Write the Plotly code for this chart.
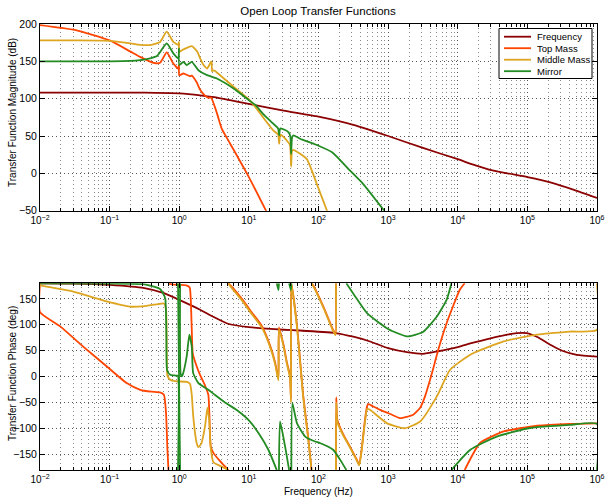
import plotly.graph_objects as go

# ---------------- data (frequency given as log10(Hz)) ----------------
series_names = ["Frequency", "Top Mass", "Middle Mass", "Mirror"]
series_colors = ["#8B0000", "#FF4500", "#DDA520", "#228B22"]

x_tick_exps = [-2, -1, 0, 1, 2, 3, 4, 5, 6]
x_tick_labels = ["10<sup>\u22122</sup>", "10<sup>\u22121</sup>", "10<sup>0</sup>", "10<sup>1</sup>",
                 "10<sup>2</sup>", "10<sup>3</sup>", "10<sup>4</sup>", "10<sup>5</sup>", "10<sup>6</sup>"]

# magnitude (dB)
freq_mag_logf = [-2, -1, -0.5, 0, 0.3, 0.5, 0.73, 1.0, 1.5, 2.0, 2.5, 3.0, 3.5, 4.0, 4.2, 4.5, 5.0, 5.33, 5.67, 6.0]
freq_mag_db = [108, 108, 108, 107, 104.5, 102, 98, 93, 84, 76, 65, 50, 34, 19, 12.5, 4, -5, -12, -22, -33]

top_mag_logf = [-2, -1.5, -1, -0.7, -0.563, -0.37, -0.276, -0.18, -0.085, -0.013, -0.004, 0.0, 0.06, 0.155,
                0.18, 0.25, 0.3, 0.37, 0.42, 0.457, 0.5, 0.55, 0.61, 0.73, 1.0, 1.257]
top_mag_db = [198.6, 192, 178, 163, 156, 148, 148, 162, 147, 140, 145, 131.5, 133.7, 130,
              131, 122, 112, 104, 101, 101.5, 92, 78, 60, 40, -5, -52]

mid_mag_logf = [-2, -1.5, -1, -0.7, -0.563, -0.4, -0.276, -0.18, -0.085, -0.013, -0.004, 0.0, 0.06, 0.18,
                0.26, 0.3, 0.35, 0.40, 0.457, 0.466, 0.47, 0.5, 0.54, 0.78, 1.0, 1.1, 1.2, 1.35, 1.42,
                1.435, 1.45, 1.47, 1.545, 1.59, 1.607, 1.62, 1.64, 1.83, 1.975, 2.13]
mid_mag_db = [178, 178, 177.5, 174, 172, 172, 176, 189.7, 176, 172, 176, 163, 166, 170.4,
              163, 154, 145, 140.4, 149.4, 149.5, 137, 138, 135, 116, 99, 88, 75.4, 57.5, 52,
              39.6, 52, 51, 44, 38, 9, 30, 31.5, 19.4, -14, -52]

mir_mag_logf = [-2, -1, -0.7, -0.563, -0.42, -0.32, -0.18, -0.085, -0.013, -0.004, 0.0, 0.06, 0.107, 0.18,
                0.275, 0.40, 0.54, 0.78, 1.0, 1.1, 1.2, 1.35, 1.42, 1.435, 1.45, 1.52, 1.57, 1.595,
                1.607, 1.62, 1.64, 1.735, 2.0, 2.2, 2.45, 2.64, 2.96]
mir_mag_db = [150, 150, 150.5, 151.6, 154, 157, 174, 160.6, 154, 167, 145, 149.4, 145, 149.4,
              138, 131.5, 127, 113.6, 98, 91, 80, 66.5, 60, 51, 60, 58, 55, 50,
              26, 48, 51, 46.4, 37, 28, 4, -14, -52]

# phase (deg); None separates wrapped segments
freq_ph_logf = [-2, -1.5, -1, -0.5, -0.22, 0, 0.3, 0.48, 0.7, 1.0, 1.5, 1.73, 2.24, 2.5, 2.74, 3.0, 3.29,
                3.5, 3.70, 4.0, 4.18, 4.47, 4.85, 4.99, 5.15, 5.33, 5.5, 5.71, 6.0]
freq_ph_deg = [180, 179.5, 177, 170.7, 161, 148, 129, 116, 102, 95.5, 90.4, 89, 84, 77, 67.8, 55, 46.6,
               44, 48.5, 57, 64, 74, 84, 84, 76, 61.4, 50, 42, 38.5]

top_ph_logf = [-2, -2, -1.71, -1.38, -1.04, -0.755, -0.56, -0.4, -0.276, -0.22, -0.19, -0.17, -0.155, None,
               -0.155, -0.1, 0.1, 0.15, 0.165, 0.18, 0.194, 0.25, 0.30, 0.37, 0.418, 0.432, 0.453, 0.49,
               0.586, 0.705, None,
               0.705, 0.73, 0.9, 1.04, 1.185, 1.305, 1.376, 1.424, 1.432, 1.5, 1.545, 1.59, 1.605, 1.61,
               1.69, 1.78, 1.855, 1.9, None,
               1.9, 1.93, 2.07, 2.21, 2.245, 2.25, None,
               2.25, 2.255, 2.27, 2.35, 2.45, 2.55, 2.585, 2.62, 2.67, 2.7, 2.72, 2.78, 2.885, 3.03, 3.17,
               3.36, 3.46, 3.53, 3.63, 3.72, 3.84, 4.03, 4.1, None,
               4.1, 4.32, 4.66, 5.14, 5.61, 6.0]
top_ph_deg = [180, 124.5, 97, 58, 19.6, -12.4, -25.3, -29, -30.5, -35, -70, -140, -180, None,
              180, 178, 176, 172, 150, 90, 45, 20, 3, -17, -35, -70, -135, -147,
              -163, -180, None,
              180, 177, 150, 124, 98, 60, 28, -4, 95, 60, 28, 2, -43, 180,
              100, -36, -120, -180, None,
              180, 175, 135, 90, 82, 180, None,
              -180, -40, -83, -110, -134.6, -160, -169, -140, -80, -56, -53, -57, -64, -72, -80,
              -73.5, -60, -38, 6.8, 51.8, 103, 167.5, 180, None,
              -180, -128, -105.7, -94.7, -91, -90]

mid_ph_logf = [-2, -1.52, -1.04, -0.71, -0.47, -0.30, -0.22, -0.19, -0.18, -0.17, -0.13, -0.04, 0.11, 0.155,
               0.18, 0.2, 0.25, 0.275, 0.32, 0.37, 0.405, 0.43, 0.45, 0.49, 0.586, 0.705, None,
               0.705, 0.73, 0.9, 1.04, 1.185, 1.305, 1.376, 1.424, 1.432, 1.5, 1.545, 1.59, 1.605, 1.61,
               1.69, 1.78, 1.855, 1.9, None,
               1.9, 1.93, 2.07, 2.21, 2.245, 2.25, None,
               2.25, 2.255, 2.27, 2.35, 2.45, 2.55, 2.585, 2.62, 2.67, 2.7, 2.74, 2.98, 3.24, 3.46, 3.70,
               3.89, 4.18, 4.66, 5.14, 5.61, 6.0, 6.0]
mid_ph_deg = [176, 164, 145, 135, 136.6, 140, 141, 130, 50, 2, -6, -9, -10, -14,
              -35, -75, -128, -136, -128, -96, -60, -83, -135, -165, -172, -180, None,
              180, 175, 147, 121, 95, 57, 25, -7, 92, 57, 25, -1, -50, 180,
              97, -40, -123, -180, None,
              180, 173, 133, 88, 80, 180, None,
              -180, -50, -88, -112, -136, -162, -171, -142, -85, -62, -64, -89.6, -99.5, -86.5, -38,
              13.3, 42.2, 68, 81, 87, 90, 180]

mir_ph_logf = [-2, -1, -0.5, -0.276, -0.23, -0.2, -0.185, -0.175, -0.13, -0.04, -0.02, -0.018, None,
               -0.018, 0.012, None,
               0.012, 0.02, 0.035, 0.05, 0.107, 0.145, 0.18, 0.2, 0.275, 0.418, 0.51, 0.68, 0.80, 0.99,
               1.14, 1.28, 1.40, None,
               1.40, 1.425, 1.432, None,
               1.432, 1.448, 1.52, 1.578, None,
               1.578, 1.603, 1.61, None,
               1.61, 1.625, 1.69, 1.81, 1.95, 2.02, 2.21, 2.31, 2.4, None,
               2.4, 2.55, 2.7, 3.0, 3.27, 3.5, 3.7, 3.84, 3.91, None,
               3.91, 4.18, 4.56, 5.04, 5.61, 6.0, 6.0]
mir_ph_deg = [180, 179.5, 178, 169, 160, 150, 80, 13, 3.5, 2, 2, -180, None,
              180, -180, None,
              180, 5, 0.4, 4, 39, 81, 58, 6.8, -12.4, -25.3, -35, -52, -62, -83,
              -109, -141, -180, None,
              180, 167, 180, None,
              -180, -86.5, -134.6, -180, None,
              180, 167, 180, None,
              -180, -51, -89.6, -115.5, -125, -128, -141, -160, -180, None,
              180, 150, 122, 92, 77.5, 86, 116, 148, 180, None,
              -180, -141, -115.5, -99, -93, -91, -180]

mag_sets = [(freq_mag_logf, freq_mag_db), (top_mag_logf, top_mag_db),
            (mid_mag_logf, mid_mag_db), (mir_mag_logf, mir_mag_db)]
ph_sets = [(freq_ph_logf, freq_ph_deg), (top_ph_logf, top_ph_deg),
           (mid_ph_logf, mid_ph_deg), (mir_ph_logf, mir_ph_deg)]


def hz(logs):
    return [None if v is None else 10 ** v for v in logs]


fig = go.Figure()
for name, color, (lx, ly) in zip(series_names, series_colors, mag_sets):
    fig.add_trace(go.Scatter(x=hz(lx), y=ly, mode="lines", name=name, showlegend=False,
                             line=dict(color=color, width=1.8, shape="spline", smoothing=0.5),
                             xaxis="x", yaxis="y"))
for name, color, (lx, ly) in zip(series_names, series_colors, ph_sets):
    fig.add_trace(go.Scatter(x=hz(lx), y=ly, mode="lines", name=name, showlegend=False,
                             line=dict(color=color, width=1.8, shape="spline", smoothing=0.5),
                             xaxis="x2", yaxis="y2", connectgaps=False))

minor_vals = [k * 10 ** p for p in range(-2, 6) for k in range(2, 10)]
grid_dash = "1px,3px"

xcommon = dict(type="log", range=[-2, 6], tickmode="array", automargin=False,
               tickvals=[10 ** e for e in x_tick_exps], ticktext=x_tick_labels,
               ticks="inside", ticklen=5, tickcolor="black", showline=True, linecolor="black",
               linewidth=1, mirror="ticks", showgrid=True, gridcolor="#555", gridwidth=1,
               griddash=grid_dash, zeroline=False,
               minor=dict(tickmode="array", tickvals=minor_vals, ticks="inside", ticklen=3,
                          tickcolor="black", showgrid=True, gridcolor="#888", griddash=grid_dash),
               tickfont=dict(size=10, color="black"))
ycommon = dict(ticks="inside", ticklen=5, tickcolor="black", showline=True, linecolor="black",
               linewidth=1, mirror="ticks", showgrid=True, gridcolor="#555", gridwidth=1,
               griddash=grid_dash, zeroline=False, automargin=False,
               tickfont=dict(size=10.5, color="black"))

FIG_W, FIG_H = 605, 498
PLOT_L, PLOT_R, PLOT_T, PLOT_B = 40, 597, 24, 470   # pixels of the plotting region
TOP_AX_BOTTOM, BOT_AX_TOP = 210.7, 283.3
plot_w, plot_h = PLOT_R - PLOT_L, PLOT_B - PLOT_T
top_h = TOP_AX_BOTTOM - PLOT_T


def px_x(px):
    return (px - PLOT_L) / plot_w


def px_y_paper(py):
    return (PLOT_B - py) / plot_h


def px_y_top(py):
    return (TOP_AX_BOTTOM - py) / top_h


# custom compact legend (MATLAB style box) in top-axes domain coordinates
row_px = [36.7, 48.2, 59.7, 71.2]
shapes = [dict(type="rect", xref="x domain", yref="y domain", x0=px_x(499), x1=px_x(592),
               y0=px_y_top(78.5), y1=px_y_top(28.5),
               line=dict(color="black", width=1), fillcolor="white", layer="above")]
annotations = []
for name, color, rp in zip(series_names, series_colors, row_px):
    yy = px_y_top(rp)
    shapes.append(dict(type="line", xref="x domain", yref="y domain", x0=px_x(504),
                       x1=px_x(531), y0=yy, y1=yy, line=dict(color=color, width=1.8),
                       layer="above"))
    annotations.append(dict(text=name, xref="x domain", yref="y domain", x=px_x(534.5), y=yy,
                            xanchor="left", yanchor="middle", showarrow=False,
                            font=dict(size=9.5, color="black")))

annotations += [
    dict(text="Transfer Function Magnitude (dB)", xref="paper", yref="paper", x=px_x(12),
         y=px_y_paper(113), textangle=-90, xanchor="center", yanchor="middle", showarrow=False,
         font=dict(size=10, color="black")),
    dict(text="Transfer Function Phase (deg)", xref="paper", yref="paper", x=px_x(12),
         y=px_y_paper(374), textangle=-90, xanchor="center", yanchor="middle", showarrow=False,
         font=dict(size=10, color="black")),
    dict(text="Frequency (Hz)", xref="paper", yref="paper", x=px_x(318),
         y=px_y_paper(491), xanchor="center", yanchor="middle", showarrow=False,
         font=dict(size=10, color="black")),
]

fig.update_layout(
    width=FIG_W, height=FIG_H,
    margin=dict(l=PLOT_L, r=FIG_W - PLOT_R, t=PLOT_T, b=FIG_H - PLOT_B),
    paper_bgcolor="white", plot_bgcolor="white",
    font=dict(family="Liberation Sans, Arial, sans-serif", size=10, color="black"),
    title=dict(text="Open Loop Transfer Functions", x=318 / FIG_W, xanchor="center",
               y=1 - 11 / FIG_H, yanchor="middle", font=dict(size=11.5, color="black")),
    xaxis=dict(domain=[0, 1], anchor="y", **xcommon),
    yaxis=dict(domain=[px_y_paper(TOP_AX_BOTTOM), 1], anchor="x", range=[-50, 200], tick0=0, dtick=50,
               **ycommon),
    xaxis2=dict(domain=[0, 1], anchor="y2", **xcommon),
    yaxis2=dict(domain=[0, px_y_paper(BOT_AX_TOP)], anchor="x2", range=[-180, 180], tick0=0, dtick=50,
                **ycommon),
    shapes=shapes,
    annotations=annotations,
    showlegend=False,
)

# remove the browser's default 8px body margin so the figure sits at the page origin
fig.write_html("out.html", config={"displayModeBar": False},
               post_script="document.body.style.margin='0';")
